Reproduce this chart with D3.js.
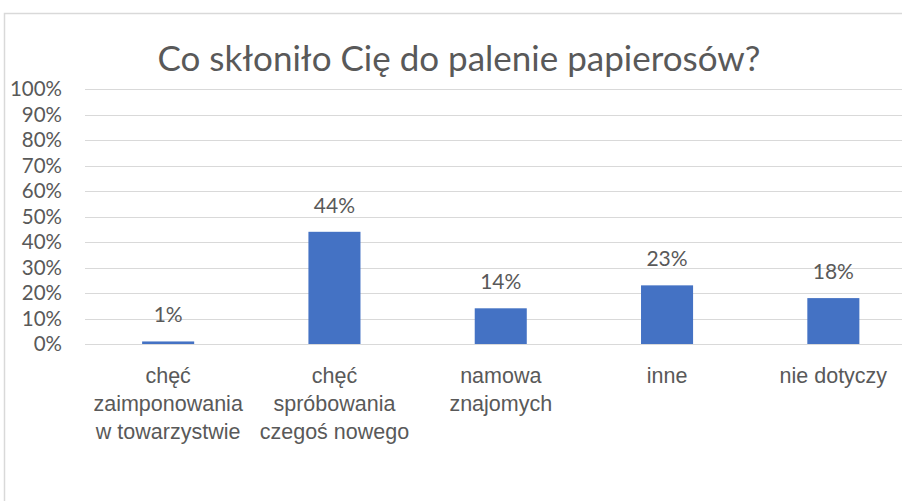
<!DOCTYPE html>
<html><head><meta charset="utf-8">
<script src="https://cdn.jsdelivr.net/npm/d3@7"></script>
<style>
html,body{margin:0;padding:0;background:#fff;}
svg{display:block;font-family:Lato,"Open Sans",sans-serif;}
</style></head>
<body>
<svg id="c" width="902" height="501"></svg>
<script>
const title = "Co skłoniło Cię do palenie papierosów?";
const categories = ["chęć\nzaimponowania\nw towarzystwie", "chęć\nspróbowania\nczegoś nowego", "namowa\nznajomych", "inne", "nie dotyczy"];
const values = [0.01, 0.44, 0.14, 0.23, 0.18];
const yTicks = [0,0.1,0.2,0.3,0.4,0.5,0.6,0.7,0.8,0.9,1.0];

const svg = d3.select("#c");
const textColor = "#595959";
// frame
svg.append("rect").attr("x",4.5).attr("y",13.5).attr("width",1000).attr("height",600)
  .attr("fill","#fff").attr("stroke","#d9d9d9").attr("stroke-width",1.5);

const x = d3.scaleBand().domain(categories).range([85, 916.5]).paddingInner(0.687).paddingOuter(0.3435);
const y = d3.scaleLinear().domain([0,1]).range([344, 89]);

// title
svg.append("text").attr("x",459).attr("y",71).attr("text-anchor","middle")
  .attr("fill",textColor).attr("font-size",35).text(title);

// grid
svg.append("g").selectAll("line").data(yTicks).join("line")
  .attr("x1",85).attr("x2",902).attr("y1",d=>Math.round(y(d))+0.5).attr("y2",d=>Math.round(y(d))+0.5)
  .attr("stroke","#d9d9d9").attr("stroke-width",1.2);

// y axis
const yAxis = svg.append("g").attr("transform","translate(85,0)")
  .call(d3.axisLeft(y).tickValues(yTicks).tickFormat(d3.format(".0%")).tickSize(0).tickPadding(23));
yAxis.select(".domain").remove();
yAxis.selectAll("text").attr("fill",textColor).attr("font-size",20.5).attr("font-family","Lato");

// bars
svg.append("g").selectAll("rect").data(values).join("rect")
  .attr("x",(d,i)=>x(categories[i])).attr("width",x.bandwidth())
  .attr("y",d=>y(d)).attr("height",d=>y(0)-y(d)).attr("fill","#4472C4");

// data labels
svg.append("g").selectAll("text").data(values).join("text")
  .attr("x",(d,i)=>x(categories[i])+x.bandwidth()/2).attr("y",d=>y(d)-19)
  .attr("text-anchor","middle").attr("fill",textColor).attr("font-size",21)
  .text(d=>d3.format(".0%")(d));

// x axis
const xAxis = svg.append("g").attr("transform","translate(0,344)")
  .call(d3.axisBottom(x).tickSize(0).tickFormat(""));
xAxis.select(".domain").remove();
xAxis.selectAll(".tick").each(function(d){
  const t = d3.select(this).append("text").attr("fill",textColor).attr("font-size",21.5)
    .attr("text-anchor","middle");
  d.split("\n").forEach((line,i)=>{
    t.append("tspan").attr("x",0).attr("y",39+i*28).text(line);
  });
});
</script>
</body></html>
